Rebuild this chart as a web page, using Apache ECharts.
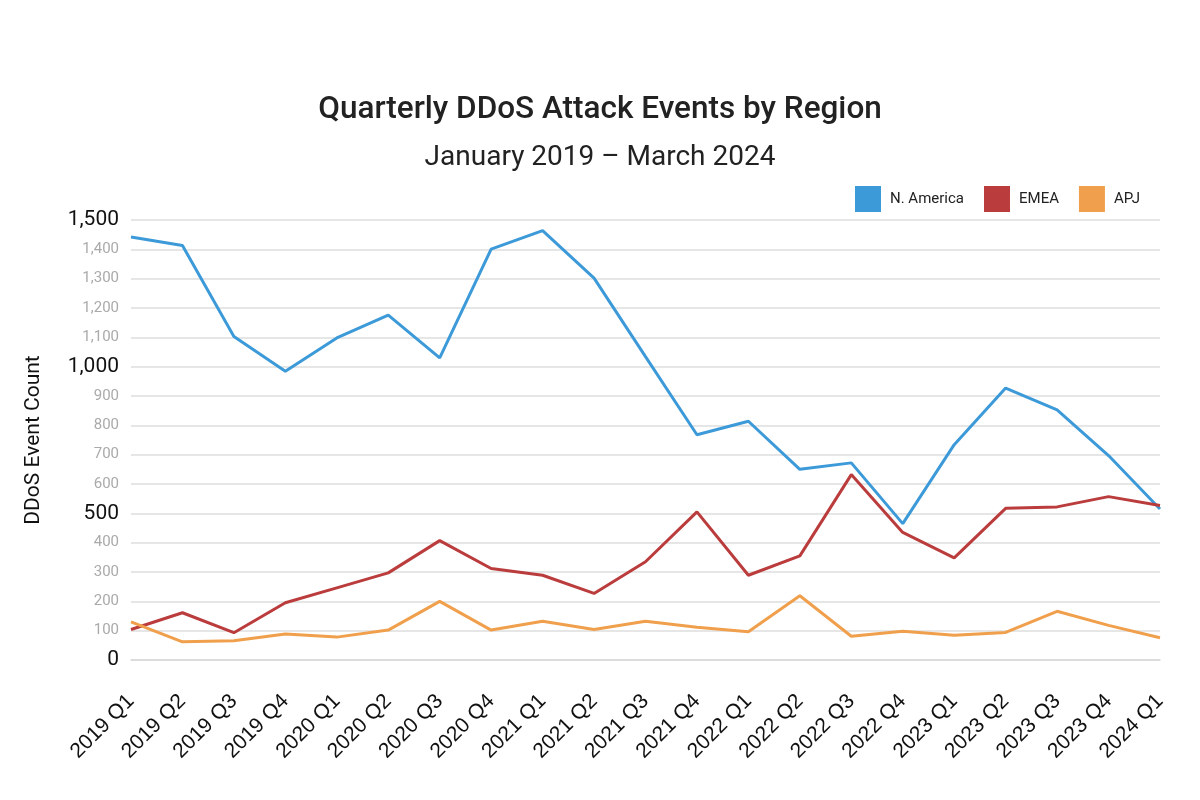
<!DOCTYPE html>
<html>
<head>
<meta charset="utf-8">
<script src="https://cdn.jsdelivr.net/npm/echarts@6/dist/echarts.min.js"></script>
<style>
  html, body { margin: 0; padding: 0; background: #fff; }
  #main { width: 1200px; height: 800px; }
</style>
</head>
<body>
<div id="main"></div>
<script>
var quarters = ['2019 Q1','2019 Q2','2019 Q3','2019 Q4','2020 Q1','2020 Q2','2020 Q3','2020 Q4',
    '2021 Q1','2021 Q2','2021 Q3','2021 Q4','2022 Q1','2022 Q2','2022 Q3','2022 Q4',
    '2023 Q1','2023 Q2','2023 Q3','2023 Q4','2024 Q1'];
var northAmerica = [1442,1413,1103,984,1098,1176,1030,1401,1464,1302,1034,768,814,650,672,465,734,927,853,697,515];
var emea = [104,161,93,195,246,297,407,312,289,227,335,505,289,355,632,435,348,517,522,557,527];
var apj = [130,62,66,89,78,102,200,102,132,104,132,112,96,219,81,98,84,94,166,118,76];
var majorTicks = [0, 500, 1000, 1500];

var chart = echarts.init(document.getElementById('main'));

var fmtNum = function (v) {
    return v.toString().replace(/\B(?=(\d{3})+(?!\d))/g, ',');
};

var lineSeries = function (name, data, color) {
    return {
        name: name,
        type: 'line',
        data: data,
        symbol: 'none',
        lineStyle: { width: 3, color: color },
        itemStyle: { color: color }
    };
};

var option = {
    backgroundColor: '#fff',
    title: [
        {
            text: 'Quarterly DDoS Attack Events by Region',
            left: 'center',
            top: 89,
            textStyle: { fontFamily: 'Roboto', fontWeight: 500, fontSize: 31.5, color: '#222' }
        },
        {
            text: 'January 2019 \u2013 March 2024',
            left: 'center',
            top: 139,
            textStyle: { fontFamily: 'Roboto', fontWeight: 400, fontSize: 28, color: '#222' }
        }
    ],
    legend: {
        right: 55,
        top: 181,
        itemWidth: 26,
        itemHeight: 26,
        itemGap: 20,
        icon: 'rect',
        itemStyle: { borderRadius: 3 },
        textStyle: { fontFamily: 'Roboto', fontSize: 15, color: '#222', padding: [0, 0, 0, 4] },
        data: ['N. America', 'EMEA', 'APJ']
    },
    grid: { left: 131, right: 40, top: 220, bottom: 140 },
    xAxis: {
        type: 'category',
        data: quarters,
        boundaryGap: false,
        axisLine: { show: true, lineStyle: { color: '#d9d9d9', width: 1.5 } },
        axisTick: { show: false },
        axisLabel: {
            rotate: 45,
            margin: 38,
            interval: 0,
            fontFamily: 'Liberation Sans',
            fontSize: 21,
            color: '#111'
        }
    },
    yAxis: {
        type: 'value',
        min: 0,
        max: 1500,
        interval: 100,
        name: 'DDoS Event Count',
        nameLocation: 'middle',
        nameGap: 87,
        nameTextStyle: { fontFamily: 'Roboto', fontSize: 21, color: '#111' },
        axisLine: { show: false },
        axisTick: { show: false },
        splitLine: { lineStyle: { color: '#dedede', width: 1.5 } },
        axisLabel: {
            margin: 12,
            formatter: function (v) {
                return majorTicks.indexOf(v) >= 0 ? '{big|' + fmtNum(v) + '}' : '{small|' + fmtNum(v) + '}';
            },
            rich: {
                big: { fontFamily: 'Roboto', fontSize: 21, color: '#111' },
                small: { fontFamily: 'Roboto', fontSize: 15, color: '#aaa' }
            }
        }
    },
    series: [
        lineSeries('N. America', northAmerica, '#3d9ad9'),
        lineSeries('EMEA', emea, '#bb3c3c'),
        lineSeries('APJ', apj, '#f0a04c')
    ]
};

chart.setOption(option);
</script>
</body>
</html>
